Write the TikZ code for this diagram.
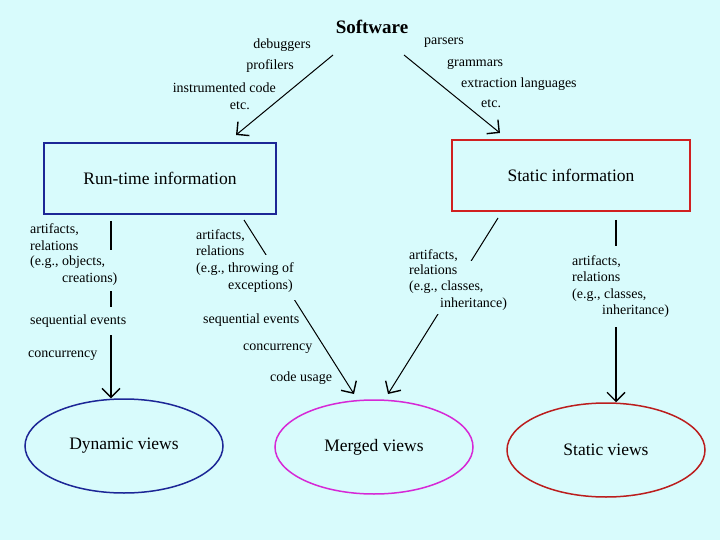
\documentclass[tikz,border=0pt]{standalone}
\usepackage{fontspec}
\setmainfont{Liberation Serif}
\usetikzlibrary{arrows.meta,shapes.geometric}
\definecolor{bg}{RGB}{216,251,252}
\definecolor{navy}{RGB}{28,38,150}
\definecolor{dred}{RGB}{208,32,32}
\definecolor{mag}{RGB}{214,40,214}
\begin{document}
\begin{tikzpicture}[x=1pt,y=-1pt,
  lbl/.style={font=\fontsize{14}{16.5}\selectfont, inner sep=0pt, align=left},
  hole/.style={fill=bg, inner xsep=2pt},
  infobox/.style={rectangle, line width=1.6pt, minimum height=71pt, font=\fontsize{17.5}{20}\selectfont},
  view/.style={ellipse, line width=1.5pt, minimum width=198pt, minimum height=94pt, inner sep=0pt, font=\fontsize{17.5}{20}\selectfont},
  conn/.style={line width=1pt},
  barb/.style={-{Straight Barb[length=9pt,width=18pt,line width=1.4pt]}},
]
\fill[bg] (0,0) rectangle (720,540);
\useasboundingbox (0,0) rectangle (720,540);

% nodes
\node[font=\fontsize{19}{22}\selectfont\bfseries, inner sep=0pt] (sw) at (372,27) {Software};
\node[infobox, draw=navy, minimum width=232pt] (rt) at (160,178.5) {Run-time information};
\node[infobox, draw=dred, minimum width=238pt] (st) at (571,175.5) {Static information};
\node[view, draw=navy] (dyn) at (124,446) {Dynamic views};
\node[view, draw=mag] (mer) at (374,447) {Merged views};
\node[view, draw=dred!90!black] (sv) at (606,450) {Static views};

% helper coordinates (connector ends)
\coordinate (a1) at (333,55);
\coordinate (a2) at (236,135);
\coordinate (b1) at (404,55);
\coordinate (b2) at (500,133);
\coordinate (xL) at (111,0);
\coordinate (xR) at (616,0);
\coordinate (m1) at (244,220);
\coordinate (m2) at (354,394);
\coordinate (n1) at (498,218);
\coordinate (n2) at (388,394);

% connectors
\draw[conn, barb] (a1) -- (a2);
\draw[conn, barb] (b1) -- (b2);
\draw[conn, line width=1.3pt, barb, shorten <=6pt] (rt.south -| xL) -- (dyn.north -| xL);
\draw[conn, barb] (m1) -- (m2);
\draw[conn, barb] (n1) -- (n2);
\draw[conn, line width=1.3pt, barb, shorten <=8pt] (st.south -| xR) -- (sv.north -| xR);

% labels that interrupt connectors
\node[lbl, hole, inner ysep=6pt, anchor=west] at (28,270.5) {(e.g., objects,\\\hspace*{32pt}creations)};
\node[lbl, hole, inner ysep=8pt, anchor=west] at (28,321) {sequential events};
\node[lbl, hole, inner ysep=8pt, anchor=west] at (194,277.5) {(e.g., throwing of\\\hspace*{32pt}exceptions)};
\node[lbl, hole, inner ysep=4pt, anchor=west] at (407,287.5) {relations\\(e.g., classes,\\\hspace*{31pt}inheritance)};
\node[lbl, hole, inner ysep=9pt, anchor=west] at (570,286.5) {artifacts,\\relations\\(e.g., classes,\\\hspace*{30pt}inheritance)};

% other labels
\node[lbl, anchor=east] at (311,45) {debuggers};
\node[lbl, anchor=east] at (294,66) {profilers};
\node[lbl, anchor=east] at (276,88) {instrumented code};
\node[lbl, anchor=east] at (250,106) {etc.};
\node[lbl, anchor=west] at (424,43) {parsers};
\node[lbl, anchor=west] at (447,64) {grammars};
\node[lbl, anchor=west] at (461,84) {extraction languages};
\node[lbl, anchor=west] at (481,104) {etc.};

\node[lbl, anchor=west] at (30,237) {artifacts,\\relations};
\node[lbl, anchor=west] at (28,356) {concurrency};
\node[lbl, anchor=west] at (196,242.5) {artifacts,\\relations};
\node[lbl, anchor=west] at (203,320) {sequential events};
\node[lbl, anchor=west] at (243,349) {concurrency};
\node[lbl, anchor=west] at (270,378) {code usage};
\node[lbl, anchor=west] at (409,256) {artifacts,};
\end{tikzpicture}
\end{document}
